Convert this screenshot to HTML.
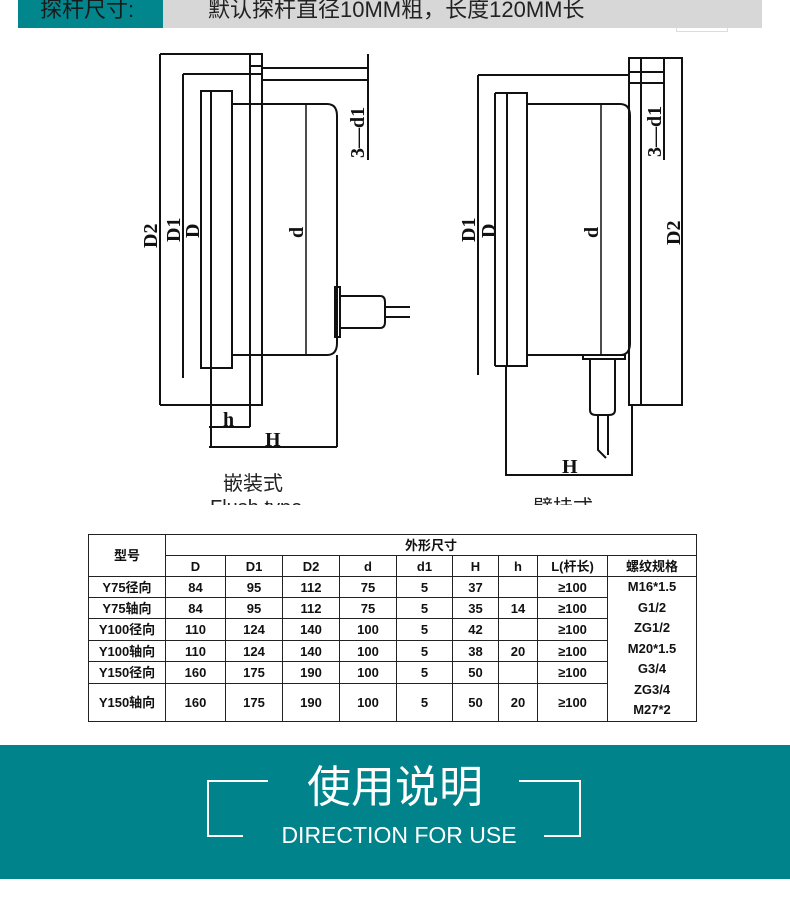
<!DOCTYPE html>
<html><head><meta charset="utf-8"><style>
*{margin:0;padding:0;box-sizing:border-box}
body{width:790px;height:900px;background:#fff;position:relative;overflow:hidden;font-family:"Liberation Sans","Noto Sans CJK SC",sans-serif}
.hd1{position:absolute;left:18px;top:0;width:145px;height:28px;background:#00868c;color:#1a1a1a;font-size:22px;line-height:20px;padding-left:22px;overflow:hidden}
.hd2{position:absolute;left:163px;top:0;width:599px;height:28px;background:#d7d7d7;color:#222;font-size:22px;line-height:20px;padding-left:45px;overflow:hidden}
.tab{position:absolute;left:88px;top:534px;border-collapse:collapse;font-family:"Liberation Sans","Noto Sans CJK SC",sans-serif;font-weight:bold;font-size:13px;color:#111}
.tab td{border:1px solid #222;text-align:center;padding:0;line-height:13px}
.band{position:absolute;left:0;top:745px;width:790px;height:134px;background:#00838a}
.t1{position:absolute;left:0;width:790px;text-align:center;top:760px;color:#fff;font-size:44px;font-family:"Liberation Sans","Noto Sans CJK SC",sans-serif;line-height:56px}
.t2{position:absolute;left:0;width:798px;text-align:center;top:822px;color:#fff;font-size:23px;line-height:26px}
</style></head><body>
<div class="hd1">探杆尺寸:</div>
<div class="hd2">默认探杆直径10MM粗，长度120MM长</div>
<div style="position:absolute;left:676px;top:28px;width:52px;height:4px;border:1px solid #ddd;border-top:none"></div>
<svg width="790" height="505" style="position:absolute;left:0;top:0" xmlns="http://www.w3.org/2000/svg">
<g fill="none" stroke="#111" stroke-width="2">
<line x1="160" y1="54" x2="262" y2="54"/>
<line x1="160" y1="54" x2="160" y2="405"/>
<line x1="160" y1="405" x2="262" y2="405"/>
<rect x="250" y="54" width="12" height="351"/>
<line x1="250" y1="66" x2="262" y2="66"/>
<line x1="183" y1="74" x2="262" y2="74"/>
<line x1="183" y1="74" x2="183" y2="378"/>
<rect x="201" y="91" width="31" height="277"/>
<line x1="211" y1="91" x2="211" y2="447"/>
<path d="M232 104 H327 Q337 104 337 116 V343 Q337 355 327 355 H232"/>
<line x1="306" y1="104" x2="306" y2="355" stroke-width="1.5"/>
<rect x="335" y="287" width="5" height="50"/>
<path d="M340 296 H380 Q385 296 385 302 V322 Q385 328 380 328 H340"/>
<line x1="385" y1="307" x2="410" y2="307"/>
<line x1="385" y1="317" x2="410" y2="317"/>
<line x1="262" y1="68" x2="368" y2="68"/>
<line x1="262" y1="80" x2="368" y2="80"/>
<line x1="368" y1="54" x2="368" y2="160"/>
<line x1="209" y1="427" x2="250" y2="427"/>
<line x1="250" y1="405" x2="250" y2="427"/>
<line x1="209" y1="447" x2="337" y2="447"/>
<line x1="337" y1="355" x2="337" y2="447"/>
<line x1="478" y1="75" x2="628" y2="75"/>
<line x1="478" y1="75" x2="478" y2="375"/>
<rect x="507" y="93" width="20" height="273"/>
<line x1="495" y1="93" x2="507" y2="93"/>
<line x1="495" y1="93" x2="495" y2="366"/>
<line x1="495" y1="366" x2="507" y2="366"/>
<path d="M527 104 H620 Q630 104 630 116 V343 Q630 355 620 355 H527"/>
<line x1="601" y1="104" x2="601" y2="355" stroke-width="1.5"/>
<rect x="629" y="58" width="53" height="347"/>
<line x1="641" y1="58" x2="641" y2="405"/>
<line x1="629" y1="72" x2="665" y2="72"/>
<line x1="629" y1="83" x2="665" y2="83"/>
<line x1="664" y1="58" x2="664" y2="160"/>
<line x1="632" y1="405" x2="632" y2="475"/>
<rect x="583" y="355" width="42" height="4"/>
<path d="M590 359 V410 Q590 415 596 415 H609 Q615 415 615 410 V359"/>
<path d="M598 415 V450 L606 458 M608 415 V455"/>
<line x1="506" y1="366" x2="506" y2="475"/>
<line x1="505" y1="475" x2="633" y2="475"/>
</g>
<g font-family="Liberation Serif,serif" font-weight="bold" font-size="20" fill="#111">
<text transform="translate(157,248) rotate(-90)">D2</text>
<text transform="translate(180,242) rotate(-90)">D1</text>
<text transform="translate(199,238) rotate(-90)">D</text>
<text transform="translate(303,238) rotate(-90)">d</text>
<text transform="translate(364,158) rotate(-90)">3—d1</text>
<text x="223" y="426">h</text>
<text x="265" y="446">H</text>
<text transform="translate(475,242) rotate(-90)">D1</text>
<text transform="translate(495,238) rotate(-90)">D</text>
<text transform="translate(598,238) rotate(-90)">d</text>
<text transform="translate(680,245) rotate(-90)">D2</text>
<text transform="translate(661,157) rotate(-90)">3—d1</text>
<text x="562" y="473">H</text>
</g>
<g font-family="Liberation Sans,Noto Sans CJK SC,sans-serif" font-size="20" fill="#222">
<text x="223" y="490">嵌装式</text>
<text x="210" y="514">Flush type</text>
<text x="533" y="514">壁挂式</text>
</g>
</svg>
<table class="tab">
<colgroup><col style="width:77px"><col style="width:60px"><col style="width:57px"><col style="width:57px"><col style="width:57px"><col style="width:56px"><col style="width:46px"><col style="width:39px"><col style="width:70px"><col style="width:89px"></colgroup>
<tr style="height:21px"><td rowspan="2">型号</td><td colspan="9">外形尺寸</td></tr>
<tr style="height:21px"><td>D</td><td>D1</td><td>D2</td><td>d</td><td>d1</td><td>H</td><td>h</td><td>L(杆长)</td><td>螺纹规格</td></tr>
<tr style="height:21px"><td>Y75径向</td><td>84</td><td>95</td><td>112</td><td>75</td><td>5</td><td>37</td><td></td><td>≥100</td><td rowspan="6" style="line-height:20.5px">M16*1.5<br>G1/2<br>ZG1/2<br>M20*1.5<br>G3/4<br>ZG3/4<br>M27*2</td></tr>
<tr style="height:21px"><td>Y75轴向</td><td>84</td><td>95</td><td>112</td><td>75</td><td>5</td><td>35</td><td>14</td><td>≥100</td></tr>
<tr style="height:22px"><td>Y100径向</td><td>110</td><td>124</td><td>140</td><td>100</td><td>5</td><td>42</td><td></td><td>≥100</td></tr>
<tr style="height:21px"><td>Y100轴向</td><td>110</td><td>124</td><td>140</td><td>100</td><td>5</td><td>38</td><td>20</td><td>≥100</td></tr>
<tr style="height:22px"><td>Y150径向</td><td>160</td><td>175</td><td>190</td><td>100</td><td>5</td><td>50</td><td></td><td>≥100</td></tr>
<tr style="height:38px"><td>Y150轴向</td><td>160</td><td>175</td><td>190</td><td>100</td><td>5</td><td>50</td><td>20</td><td>≥100</td></tr>
</table>
<div class="band"></div>
<svg width="790" height="900" style="position:absolute;left:0;top:0">
<g fill="none" stroke="#fff" stroke-width="2">
<path d="M268 781 H208 V836 H243"/>
<path d="M519 781 H580 V836 H544"/>
</g></svg>
<div class="t1">使用说明</div>
<div class="t2">DIRECTION FOR USE</div>
</body></html>
